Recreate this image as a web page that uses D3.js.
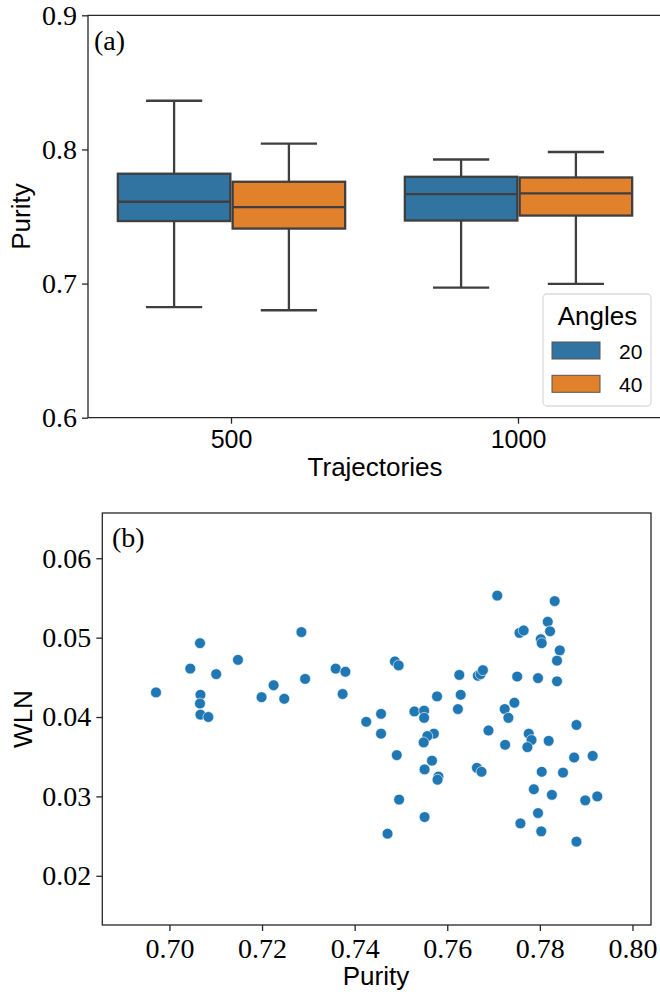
<!DOCTYPE html>
<html>
<head>
<meta charset="utf-8">
<style>
body { margin: 0; background: #fff; }
.serif { font-family: "Liberation Serif", serif; }
.sans { font-family: "Liberation Sans", sans-serif; }
</style>
</head>
<body>
<script src="https://cdn.jsdelivr.net/npm/d3@7"></script>
<script>

// ---- panel (a) data: box stats per trajectory count ----
var trajectories = ["500", "1000"];
var angles = ["20", "40"];
var low20  = [0.6824, 0.6970], q1_20 = [0.7466, 0.7470], med20 = [0.7610, 0.7667], q3_20 = [0.7819, 0.7796], high20 = [0.8363, 0.7925];
var low40  = [0.6801, 0.6998], q1_40 = [0.7410, 0.7507], med40 = [0.7570, 0.7672], q3_40 = [0.7759, 0.7791], high40 = [0.8043, 0.7981];
var boxColors = ["#3274a1", "#e1812c"];
var purityTicks = [0.6, 0.7, 0.8, 0.9];

// ---- panel (b) data: purity vs WLN ----
var purity = [0.6971, 0.7045, 0.7066, 0.7067, 0.7066, 0.7067, 0.7084, 0.7101, 0.7148, 0.7199,
  0.7225, 0.7248, 0.7285, 0.7293, 0.7359, 0.7380, 0.7374, 0.7425, 0.7708, 0.7832,
  0.7817, 0.7822, 0.7756, 0.7765, 0.7802, 0.7804, 0.7843, 0.7837, 0.7837, 0.7796,
  0.7751, 0.7487, 0.7495, 0.7626, 0.7666, 0.7672, 0.7677, 0.7629, 0.7578, 0.7623,
  0.7745, 0.7724, 0.7732, 0.7457, 0.7457, 0.7529, 0.7550, 0.7550, 0.7571, 0.7557,
  0.7549, 0.7689, 0.7725, 0.7776, 0.7782, 0.7773, 0.7819, 0.7879, 0.7874, 0.7914,
  0.7491, 0.7567, 0.7551, 0.7581, 0.7579, 0.7664, 0.7674, 0.7804, 0.7850, 0.7787,
  0.7826, 0.7898, 0.7924, 0.7496, 0.7551, 0.7471, 0.7796, 0.7758, 0.7803, 0.7879];
var wln = [0.0431, 0.0461, 0.0493, 0.0428, 0.0417, 0.0403, 0.0400, 0.0454, 0.0472, 0.0425,
  0.0440, 0.0423, 0.0507, 0.0448, 0.0461, 0.0457, 0.0429, 0.0394, 0.0553, 0.0546,
  0.0520, 0.0508, 0.0506, 0.0509, 0.0498, 0.0493, 0.0484, 0.0471, 0.0445, 0.0449,
  0.0451, 0.0470, 0.0465, 0.0453, 0.0452, 0.0454, 0.0459, 0.0428, 0.0426, 0.0410,
  0.0418, 0.0410, 0.0399, 0.0404, 0.0379, 0.0407, 0.0408, 0.0399, 0.0379, 0.0376,
  0.0368, 0.0383, 0.0365, 0.0379, 0.0371, 0.0362, 0.0370, 0.0390, 0.0349, 0.0351,
  0.0352, 0.0345, 0.0334, 0.0325, 0.0321, 0.0336, 0.0331, 0.0331, 0.0330, 0.0309,
  0.0302, 0.0295, 0.0300, 0.0296, 0.0274, 0.0253, 0.0279, 0.0266, 0.0256, 0.0243];
var purityXTicks = [0.70, 0.72, 0.74, 0.76, 0.78, 0.80];
var wlnTicks = [0.02, 0.03, 0.04, 0.05, 0.06];

var svg = d3.select("body").append("svg")
    .attr("width", 660)
    .attr("height", 997);

var axisColor = "#262626",
    lineColor = "#3f3f3f";

function styleAxis(g, cls, size) {
  g.select(".domain").remove();
  g.selectAll(".tick line").attr("stroke", axisColor).attr("stroke-width", 1.3);
  g.selectAll(".tick text").attr("class", cls).style("font-size", size + "px").attr("fill", "#000");
}

// =================== panel (a) ===================
var ax = {left: 88, right: 662, top: 15.3, bottom: 417.7};

var x = d3.scaleBand().domain(trajectories).range([ax.left, ax.right]);
var xHue = d3.scaleBand().domain(angles).range([0, x.bandwidth()]).paddingOuter(0.25);
var y = d3.scaleLinear().domain([0.6, 0.9]).range([ax.bottom, ax.top]);

var stats = [
  {low: low20, q1: q1_20, med: med20, q3: q3_20, high: high20},
  {low: low40, q1: q1_40, med: med40, q3: q3_40, high: high40}
];
var boxes = [];
trajectories.forEach(function(t, i) {
  angles.forEach(function(a, j) {
    var s = stats[j];
    boxes.push({t: t, a: a, j: j, low: s.low[i], q1: s.q1[i], med: s.med[i], q3: s.q3[i], high: s.high[i]});
  });
});

var panelA = svg.append("g");

var bw = xHue.bandwidth() * 0.98;
var box = panelA.selectAll(".box").data(boxes).enter().append("g")
    .attr("transform", function(d) {
      return "translate(" + (x(d.t) + xHue(d.a) + xHue.bandwidth() / 2) + ",0)";
    });

box.append("line")
    .attr("y1", function(d) { return y(d.high); })
    .attr("y2", function(d) { return y(d.q3); });
box.append("line")
    .attr("y1", function(d) { return y(d.q1); })
    .attr("y2", function(d) { return y(d.low); });
box.append("line")
    .attr("x1", -bw / 4).attr("x2", bw / 4)
    .attr("y1", function(d) { return y(d.high); })
    .attr("y2", function(d) { return y(d.high); });
box.append("line")
    .attr("x1", -bw / 4).attr("x2", bw / 4)
    .attr("y1", function(d) { return y(d.low); })
    .attr("y2", function(d) { return y(d.low); });
box.append("rect")
    .attr("x", -bw / 2)
    .attr("width", bw)
    .attr("y", function(d) { return y(d.q3); })
    .attr("height", function(d) { return y(d.q1) - y(d.q3); })
    .attr("fill", function(d) { return boxColors[d.j]; });
box.append("line")
    .attr("x1", -bw / 2).attr("x2", bw / 2)
    .attr("y1", function(d) { return y(d.med); })
    .attr("y2", function(d) { return y(d.med); });
box.selectAll("line, rect")
    .attr("stroke", lineColor)
    .attr("stroke-width", 2.3);

// spines
panelA.append("path")
    .attr("d", "M660," + ax.top + "H" + ax.left + "V" + ax.bottom + "H660")
    .attr("fill", "none").attr("stroke", axisColor).attr("stroke-width", 1.3);

panelA.append("g")
    .attr("transform", "translate(" + ax.left + ",0)")
    .call(d3.axisLeft(y).tickValues(purityTicks).tickFormat(d3.format(".1f")).tickSize(6).tickPadding(5))
    .call(styleAxis, "serif", 28);

panelA.append("g")
    .attr("transform", "translate(0," + ax.bottom + ")")
    .call(d3.axisBottom(x).tickSize(6).tickPadding(7))
    .call(styleAxis, "sans", 25);

panelA.append("text").attr("class", "serif")
    .attr("x", 94).attr("y", 50)
    .style("font-size", "28px")
    .text("(a)");

panelA.append("text").attr("class", "sans")
    .attr("transform", "translate(29.5," + ((ax.top + ax.bottom) / 2) + ") rotate(-90)")
    .attr("text-anchor", "middle")
    .style("font-size", "26px")
    .text("Purity");

panelA.append("text").attr("class", "sans")
    .attr("x", 375).attr("y", 476)
    .attr("text-anchor", "middle")
    .style("font-size", "26px")
    .text("Trajectories");

// legend
var leg = panelA.append("g").attr("transform", "translate(543,294)");
leg.append("rect")
    .attr("width", 108).attr("height", 112).attr("rx", 4)
    .attr("fill", "#fff").attr("fill-opacity", 0.8)
    .attr("stroke", "#dcdcdc").attr("stroke-width", 1.3);
leg.append("text").attr("class", "sans")
    .attr("x", 54.5).attr("y", 31)
    .attr("text-anchor", "middle")
    .style("font-size", "26px")
    .text("Angles");
var item = leg.selectAll(".item").data(angles).enter().append("g")
    .attr("transform", function(d, i) { return "translate(0," + (48 + i * 33.3) + ")"; });
item.append("rect")
    .attr("x", 9).attr("width", 48).attr("height", 17)
    .attr("fill", function(d, i) { return boxColors[i]; })
    .attr("stroke", "#555").attr("stroke-width", 1);
item.append("text").attr("class", "sans")
    .attr("x", 76).attr("y", 17)
    .style("font-size", "21px")
    .text(function(d) { return d; });

// =================== panel (b) ===================
var bx = {left: 102.3, right: 651, top: 513, bottom: 925};
var x2 = d3.scaleLinear().domain([0.6855, 0.804]).range([bx.left, bx.right]);
var y2 = d3.scaleLinear().domain([0.0138, 0.0657]).range([bx.bottom, bx.top]);

var panelB = svg.append("g");

panelB.selectAll("circle")
    .data(purity)
    .enter().append("circle")
    .attr("cx", function(d) { return x2(d); })
    .attr("cy", function(d, i) { return y2(wln[i]); })
    .attr("r", 5.4)
    .attr("fill", "#1f77b4")
    .attr("stroke", "#fff")
    .attr("stroke-width", 0.6);

panelB.append("rect")
    .attr("x", bx.left).attr("y", bx.top)
    .attr("width", bx.right - bx.left).attr("height", bx.bottom - bx.top)
    .attr("fill", "none").attr("stroke", axisColor).attr("stroke-width", 1.3);

panelB.append("g")
    .attr("transform", "translate(" + bx.left + ",0)")
    .call(d3.axisLeft(y2).tickValues(wlnTicks).tickFormat(d3.format(".2f")).tickSize(6).tickPadding(5))
    .call(styleAxis, "serif", 28);

panelB.append("g")
    .attr("transform", "translate(0," + bx.bottom + ")")
    .call(d3.axisBottom(x2).tickValues(purityXTicks).tickFormat(d3.format(".2f")).tickSize(6).tickPadding(7))
    .call(styleAxis, "serif", 28);

panelB.append("text").attr("class", "serif")
    .attr("x", 112).attr("y", 547)
    .style("font-size", "28px")
    .text("(b)");

panelB.append("text").attr("class", "sans")
    .attr("transform", "translate(32," + ((bx.top + bx.bottom) / 2) + ") rotate(-90)")
    .attr("text-anchor", "middle")
    .style("font-size", "26px")
    .text("WLN");

panelB.append("text").attr("class", "sans")
    .attr("x", 376).attr("y", 985)
    .attr("text-anchor", "middle")
    .style("font-size", "26px")
    .text("Purity");

</script>
</body>
</html>
